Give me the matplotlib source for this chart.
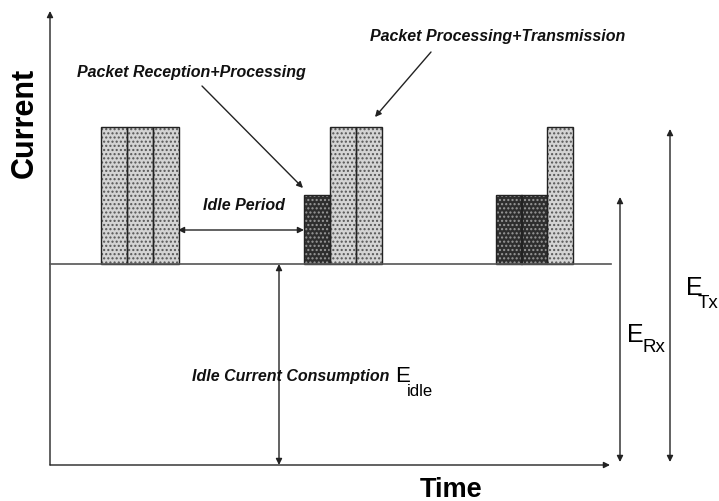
import matplotlib
matplotlib.use("Agg")
import matplotlib.pyplot as plt

# ---- data (units: time offset / current level) ----
idle_level = 201          # idle current level
rx_level = 270            # reception/processing current level
tx_level = 338            # processing/transmission current level
slot_width = 26           # duration of one activity slot

seg_start = [51, 77, 103, 254, 280, 306, 446, 471, 497]
seg_kind = ["tx", "tx", "tx", "rx", "tx", "tx", "rx", "rx", "tx"]

time_end = 560            # end of time axis
current_top = 454         # top of current axis
idle_gap = (128, 254)     # idle period shown between bursts
idle_arrow_x = 229
erx_x = 570
etx_x = 620

FONT = ["Liberation Sans", "DejaVu Sans"]

fig = plt.figure(figsize=(7.19, 5.02), dpi=100)
ax = fig.add_axes([0, 0, 1, 1])
ax.set_xlim(-50, 669)
ax.set_ylim(-36, 466)
ax.axis("off")

light_face = "#d4d4d4"
dark_face = "#2e2e2e"

for x0, kind in zip(seg_start, seg_kind):
    top = tx_level if kind == "tx" else rx_level
    h = top - idle_level
    if kind == "tx":
        ax.bar(x0, h, width=slot_width, bottom=idle_level, align="edge",
               facecolor=light_face, edgecolor="#555555", hatch="....", linewidth=0, zorder=2)
    else:
        ax.bar(x0, h, width=slot_width, bottom=idle_level, align="edge",
               facecolor=dark_face, edgecolor="#9a9a9a", hatch="....", linewidth=0, zorder=2)
    ax.bar(x0, h, width=slot_width, bottom=idle_level, align="edge",
           facecolor="none", edgecolor="#222222", linewidth=1.0, zorder=3)

arrow_kw = dict(arrowstyle="-|>", color="#222222", lw=1.0, mutation_scale=9,
                shrinkA=0, shrinkB=0)
both_kw = dict(arrowstyle="<|-|>", color="#222222", lw=1.0, mutation_scale=9,
               shrinkA=0, shrinkB=0)

# axes
ax.annotate("", xy=(0, current_top), xytext=(0, 0), arrowprops=arrow_kw)
ax.annotate("", xy=(time_end, 0), xytext=(0, 0), arrowprops=arrow_kw)
# idle level line
ax.plot([0, time_end + 1], [idle_level, idle_level], color="#555555", lw=1.2, zorder=4)

# idle period arrow
ax.annotate("", xy=(idle_gap[1], 235), xytext=(idle_gap[0], 235), arrowprops=both_kw)
# idle current arrow
ax.annotate("", xy=(idle_arrow_x, idle_level), xytext=(idle_arrow_x, 0), arrowprops=both_kw)
# E_Rx / E_Tx arrows
ax.annotate("", xy=(erx_x, rx_level - 2), xytext=(erx_x, 3), arrowprops=both_kw)
ax.annotate("", xy=(etx_x, tx_level - 2), xytext=(etx_x, 3), arrowprops=both_kw)

# pointer arrows
ax.annotate("", xy=(253, 277), xytext=(152, 379), arrowprops=arrow_kw)
ax.annotate("", xy=(325, 348), xytext=(381, 413), arrowprops=arrow_kw)

# texts
it = dict(family=FONT, fontsize=11.5, fontweight="bold", fontstyle="italic",
          va="center", ha="left", color="#111111")
ax.text(27, 394, "Packet Reception+Processing", **it)
ax.text(320, 429, "Packet Processing+Transmission", **it)
ax.text(153, 261, "Idle Period", **it)
ax.text(142, 89, "Idle Current Consumption", **it)

ax.text(-25, 343, "Current", family=FONT, fontsize=22, fontweight="bold",
        rotation=90, ha="center", va="center")
ax.text(401, -24, "Time", family=FONT, fontsize=19.5, fontweight="bold",
        ha="center", va="center")

ax.text(345, 90, "E", family=FONT, fontsize=16, ha="left", va="center")
ax.text(357, 75, "idle", family=FONT, fontsize=12, ha="left", va="center")
ax.text(577, 131, "E", family=FONT, fontsize=18, ha="left", va="center")
ax.text(592, 118, "Rx", family=FONT, fontsize=13.5, ha="left", va="center")
ax.text(636, 178, "E", family=FONT, fontsize=18, ha="left", va="center")
ax.text(648, 163, "Tx", family=FONT, fontsize=13.5, ha="left", va="center")

fig.savefig("out.png", dpi=100, facecolor="white")
